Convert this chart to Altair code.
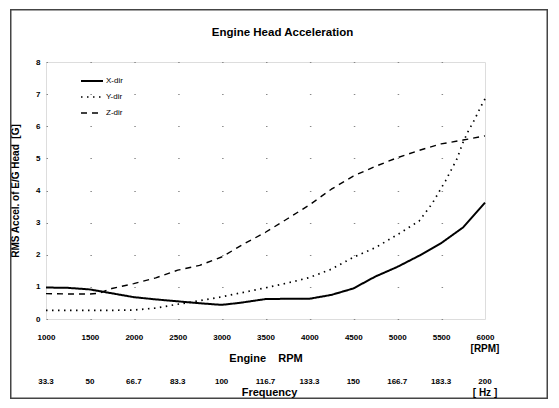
import altair as alt
import pandas as pd

# ---- data ----
x_rpm = [1000, 1250, 1500, 1750, 2000, 2250, 2500, 2750, 3000, 3200, 3500, 3750,
         4000, 4250, 4500, 4750, 5000, 5250, 5500, 5750, 6000]
x_val = [0.98, 0.97, 0.92, 0.80, 0.68, 0.61, 0.55, 0.49, 0.44, 0.50, 0.62, 0.63,
         0.63, 0.75, 0.95, 1.32, 1.62, 1.97, 2.36, 2.85, 3.62]

y_rpm = [1000, 1250, 1500, 1750, 2000, 2250, 2500, 2750, 3000, 3250, 3500, 3750,
         4000, 4250, 4500, 4750, 5000, 5250, 5400, 5550, 5680, 5750, 5810, 5880, 5950, 6000]
y_val = [0.27, 0.27, 0.27, 0.27, 0.28, 0.34, 0.46, 0.57, 0.69, 0.83, 0.97, 1.12,
         1.29, 1.55, 1.92, 2.22, 2.62, 3.05, 3.60, 4.30, 4.98, 5.50, 5.85, 6.20, 6.60, 6.85]

z_rpm = [1000, 1250, 1500, 1600, 1750, 2000, 2250, 2500, 2750, 3000, 3250, 3500,
         3750, 4000, 4250, 4500, 4750, 5000, 5250, 5500, 5750, 6000]
z_val = [0.79, 0.78, 0.78, 0.80, 0.95, 1.10, 1.28, 1.52, 1.67, 1.93, 2.33, 2.70,
         3.12, 3.55, 4.04, 4.45, 4.75, 5.02, 5.25, 5.45, 5.57, 5.70]

series_names = ["X-dir", "Y-dir", "Z-dir"]
rpm_ticks = [1000, 1500, 2000, 2500, 3000, 3500, 4000, 4500, 5000, 5500, 6000]
hz_labels = ["33.3", "50", "66.7", "83.3", "100", "116.7", "133.3", "150",
             "166.7", "183.3", "200"]
chart_title = "Engine Head Acceleration"

rows = []
for n, xs, vs in zip(series_names, [x_rpm, y_rpm, z_rpm], [x_val, y_val, z_val]):
    for a, b in zip(xs, vs):
        rows.append({"rpm": a, "val": b, "dir": n})
df = pd.DataFrame(rows)
hz_df = pd.DataFrame({"rpm": rpm_ticks, "hz": hz_labels})
unit_df = pd.DataFrame({"rpm": [6000, 6000], "txt": ["[RPM]", "[ Hz ]"], "row": ["rpm", "hz"]})

W, H = 439, 257
FONT = "Liberation Sans"
FL, FR, FT, FB = -36, W + 63, -53, H + 80  # outer frame edges (pixels)

xscale = alt.Scale(domain=[1000, 6000], nice=False, zero=False)
yscale = alt.Scale(domain=[0, 8], nice=False)

lines = alt.Chart(df).mark_line(color="black", strokeJoin="round").encode(
    x=alt.X("rpm:Q", scale=xscale,
            axis=alt.Axis(values=rpm_ticks, format="d", ticks=False, domain=False, grid=False,
                          labelFlush=False, labelOverlap=False,
                          labelFontSize=8, labelFontWeight="bold", labelFont=FONT, labelColor="black",
                          labelPadding=14,
                          title="Engine\u00a0\u00a0\u00a0\u00a0RPM", titleFont=FONT, titleFontSize=11,
                          titleFontWeight="bold", titleColor="black", titlePadding=11)),
    y=alt.Y("val:Q", scale=yscale,
            axis=alt.Axis(values=list(range(0, 9)), ticks=False, domain=False, grid=True,
                          labelFlush=False,
                          gridColor="#888", gridDash=[1.5, 42.4], gridWidth=1,
                          labelFontSize=8, labelFontWeight="bold", labelFont=FONT, labelColor="black",
                          labelPadding=6,
                          title="RMS Accel. of E/G Head\u00a0\u00a0[G]", titleFont=FONT, titleFontSize=10,
                          titleFontWeight="bold", titleColor="black", titlePadding=15)),
    strokeDash=alt.StrokeDash("dir:N",
        scale=alt.Scale(domain=series_names, range=[[1, 0], [1.5, 4.5], [6, 5]]),
        legend=alt.Legend(title=None, orient="none", legendX=34, legendY=7,
                          symbolType="stroke", symbolSize=484, symbolStrokeColor="black",
                          symbolStrokeWidth=1.5, labelFont=FONT, labelFontSize=8,
                          labelColor="black", labelOffset=2, rowPadding=-4, padding=0)),
    strokeWidth=alt.StrokeWidth("dir:N",
        scale=alt.Scale(domain=series_names, range=[2, 1.4, 1.3]), legend=None),
)

hz_text = alt.Chart(hz_df).mark_text(font=FONT, fontSize=8, fontWeight="bold", color="black").encode(
    x=alt.X("rpm:Q", scale=xscale),
    y=alt.value(H + 63),
    text="hz:N",
)

unit_rpm = alt.Chart(unit_df).transform_filter(alt.datum.row == "rpm").mark_text(
    font=FONT, fontSize=10, fontWeight="bold", color="black").encode(
    x=alt.X("rpm:Q", scale=xscale), y=alt.value(H + 30), text="txt:N")

unit_hz = alt.Chart(unit_df).transform_filter(alt.datum.row == "hz").mark_text(
    font=FONT, fontSize=10, fontWeight="bold", color="black").encode(
    x=alt.X("rpm:Q", scale=xscale), y=alt.value(H + 74), text="txt:N")

freq = alt.Chart(pd.DataFrame({"t": ["Frequency"]})).mark_text(
    font=FONT, fontSize=11, fontWeight="bold", color="black").encode(
    x=alt.value(W / 2 + 4), y=alt.value(H + 74), text="t:N")

title = alt.Chart(pd.DataFrame({"t": [chart_title]})).mark_text(
    font=FONT, fontSize=11.5, fontWeight="bold", color="black").encode(
    x=alt.value(W / 2 + 17), y=alt.value(-29), text="t:N")

one = pd.DataFrame({"a": [0]})
frame_top = alt.Chart(one).mark_rect(color="#444").encode(
    x=alt.value(FL), x2=alt.value(FR), y=alt.value(FT), y2=alt.value(FT + 1.5))
frame_bottom = alt.Chart(one).mark_rect(color="#444").encode(
    x=alt.value(FL), x2=alt.value(FR), y=alt.value(FB - 1.5), y2=alt.value(FB))
frame_left = alt.Chart(one).mark_rect(color="#444").encode(
    x=alt.value(FL), x2=alt.value(FL + 1.5), y=alt.value(FT), y2=alt.value(FB))
frame_right = alt.Chart(one).mark_rect(color="#444").encode(
    x=alt.value(FR - 1.5), x2=alt.value(FR), y=alt.value(FT), y2=alt.value(FB))

chart = alt.layer(frame_top, frame_bottom, frame_left, frame_right,
                  title, lines, hz_text, unit_rpm, unit_hz, freq).properties(
    width=W, height=H,
    autosize="none",
    padding={"left": 38, "top": 54, "right": 66, "bottom": 81},
).configure_view(stroke="black", strokeWidth=1.5).configure(background="white")

chart.save("out.html", embed_options={"renderer": "svg", "actions": False})
